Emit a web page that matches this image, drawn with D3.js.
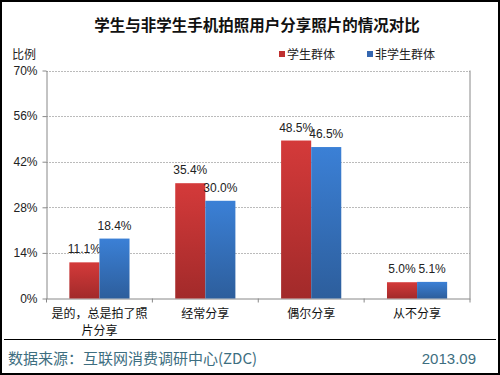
<!DOCTYPE html>
<html>
<head>
<meta charset="utf-8">
<script src="https://cdn.jsdelivr.net/npm/d3@7"></script>
<style>
  body { margin: 0; background: #fff; }
  svg { display: block; font-family: "Liberation Sans", "Noto Sans CJK SC", sans-serif; }
</style>
</head>
<body>
<div id="chart"></div>
<script>
const categories = [["是的，总是拍了照", "片分享"], ["经常分享"], ["偶尔分享"], ["从不分享"]];
const seriesNames = ["学生群体", "非学生群体"];
const student = [11.1, 35.4, 48.5, 5.0];
const nonStudent = [18.4, 30.0, 46.5, 5.1];
const yTicks = [0, 14, 28, 42, 56, 70];

const width = 500;
const height = 375;
const plotLeft = 46.5, plotRight = 470, plotTop = 70.5, plotBottom = 298.5;

const svg = d3.select("#chart")
    .append("svg")
    .attr("width", width)
    .attr("height", height);

// gradients for bars
const defs = svg.append("defs");
const grads = [["gRed", "#d43a3a", "#a22a2a"], ["gBlue", "#3b80d6", "#2d5e9c"]];
grads.forEach(g => {
    const lg = defs.append("linearGradient").attr("id", g[0])
        .attr("x1", 0).attr("y1", 0).attr("x2", 0).attr("y2", 1);
    lg.append("stop").attr("offset", "0%").attr("stop-color", g[1]);
    lg.append("stop").attr("offset", "100%").attr("stop-color", g[2]);
});

// outer frame
svg.append("rect")
    .attr("x", 1).attr("y", 1)
    .attr("width", width - 2).attr("height", height - 2)
    .attr("fill", "#fff").attr("stroke", "#000").attr("stroke-width", 2);

// title
svg.append("text")
    .attr("x", 257).attr("y", 31)
    .attr("text-anchor", "middle")
    .attr("font-size", 15.5).attr("font-weight", "bold")
    .attr("font-family", "Noto Sans CJK SC")
    .attr("fill", "#111")
    .text("学生与非学生手机拍照用户分享照片的情况对比");

svg.append("text")
    .attr("x", 12).attr("y", 59)
    .attr("font-size", 12).attr("font-family", "Noto Sans CJK SC")
    .attr("fill", "#222")
    .text("比例");

// scales
const y = d3.scaleLinear().domain([0, 70]).range([plotBottom, plotTop]);
const x = d3.scaleBand().domain(d3.range(categories.length)).range([plotLeft, plotRight]);
const x1 = d3.scaleBand().domain([0, 1]).range([0, x.bandwidth()]).paddingInner(0).paddingOuter(0.76);

// gridlines
svg.append("g")
    .selectAll("line")
    .data(yTicks.filter(d => d > 0))
    .enter()
    .append("line")
    .attr("x1", plotLeft).attr("x2", plotRight)
    .attr("y1", d => Math.round(y(d)) + 0.5).attr("y2", d => Math.round(y(d)) + 0.5)
    .attr("stroke", "#777").attr("stroke-dasharray", "1,2");

// right border of plot
svg.append("line")
    .attr("x1", plotRight).attr("x2", plotRight)
    .attr("y1", plotTop).attr("y2", plotBottom)
    .attr("stroke", "#888");

// y axis
const yAxis = svg.append("g")
    .attr("transform", `translate(${plotLeft},0)`)
    .call(d3.axisLeft(y).tickValues(yTicks).tickFormat(d => d + "%").tickSize(4).tickSizeOuter(0));
yAxis.select(".domain").attr("stroke", "#888");
yAxis.selectAll(".tick line").attr("stroke", "#888");
yAxis.selectAll("text").attr("font-size", 12).attr("fill", "#222").attr("x", -9);

// x axis
const xAxis = svg.append("g")
    .attr("transform", `translate(0,${plotBottom})`)
    .call(d3.axisBottom(x).tickValues([]).tickSizeOuter(0));
xAxis.select(".domain").attr("stroke", "#888");
xAxis.selectAll(".sep")
    .data(d3.range(categories.length + 1))
    .enter()
    .append("line")
    .attr("x1", d => plotLeft + d * x.bandwidth()).attr("x2", d => plotLeft + d * x.bandwidth())
    .attr("y1", 0).attr("y2", 4)
    .attr("stroke", "#888");

// category labels
const catLabels = svg.append("g").selectAll("text")
    .data(categories)
    .enter()
    .append("text")
    .attr("x", (d, i) => x(i) + x.bandwidth() / 2)
    .attr("y", 318)
    .attr("text-anchor", "middle")
    .attr("font-size", 12).attr("font-family", "Noto Sans CJK SC")
    .attr("fill", "#111");
catLabels.each(function(d) {
    const t = d3.select(this);
    d.forEach((line, k) => {
        t.append("tspan")
            .attr("x", t.attr("x"))
            .attr("dy", k === 0 ? 0 : 17)
            .text(line);
    });
});

// bars
const series = [student, nonStudent];
series.forEach((vals, s) => {
    svg.append("g").selectAll("rect")
        .data(vals)
        .enter()
        .append("rect")
        .attr("x", (d, i) => x(i) + x1(s))
        .attr("y", d => y(d))
        .attr("width", x1.bandwidth())
        .attr("height", d => plotBottom - y(d))
        .attr("fill", s === 0 ? "url(#gRed)" : "url(#gBlue)");

    svg.append("g").selectAll("text")
        .data(vals)
        .enter()
        .append("text")
        .attr("x", (d, i) => x(i) + x1(s) + x1.bandwidth() / 2)
        .attr("y", d => y(d) - 9)
        .attr("text-anchor", "middle")
        .attr("font-size", 12).attr("fill", "#222")
        .text(d => d.toFixed(1) + "%");
});

// legend
const legendX = [279, 367];
seriesNames.forEach((name, i) => {
    svg.append("rect")
        .attr("x", legendX[i]).attr("y", 51)
        .attr("width", 6).attr("height", 6)
        .attr("fill", i === 0 ? "#c0302f" : "#3567b0");
    svg.append("text")
        .attr("x", legendX[i] + 8).attr("y", 59)
        .attr("font-size", 12).attr("font-family", "Noto Sans CJK SC")
        .attr("fill", "#222")
        .text(name);
});

// footer
svg.append("line")
    .attr("x1", 4).attr("x2", 496)
    .attr("y1", 339.5).attr("y2", 339.5)
    .attr("stroke", "#000").attr("stroke-width", 1.2);

svg.append("text")
    .attr("x", 8).attr("y", 364)
    .attr("font-size", 15).attr("font-family", "Noto Sans CJK SC")
    .attr("fill", "#3d6e80")
    .text("数据来源：互联网消费调研中心(ZDC)");

svg.append("text")
    .attr("x", 476).attr("y", 364)
    .attr("text-anchor", "end")
    .attr("font-size", 15)
    .attr("fill", "#3d6e80")
    .text("2013.09");
</script>
</body>
</html>
